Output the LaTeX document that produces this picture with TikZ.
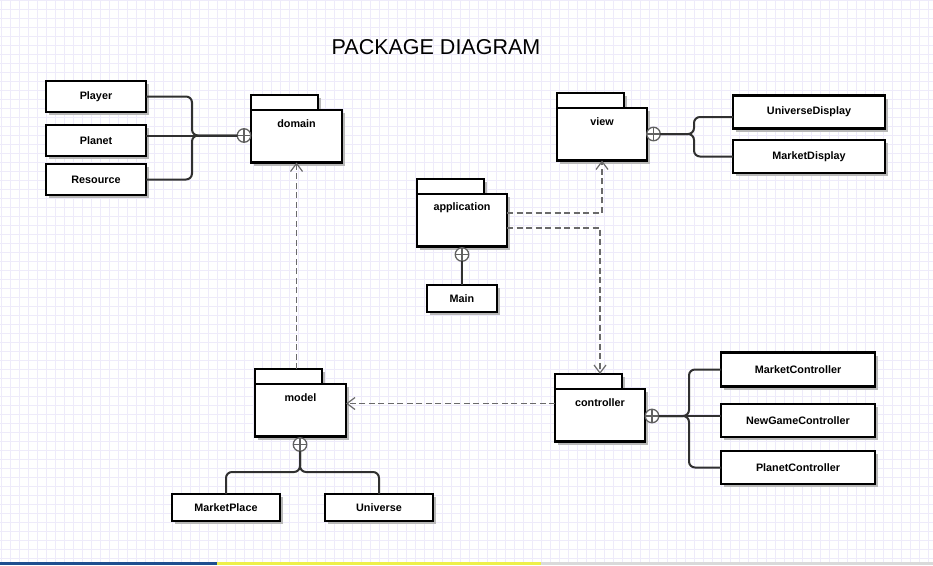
\documentclass[tikz,border=0pt]{standalone}
\usepackage{fontspec}
\setmainfont{Liberation Sans}
\usetikzlibrary{arrows.meta,shadows,calc}
\definecolor{gridc}{HTML}{EEEBFA}
\definecolor{linkc}{HTML}{303030}
\definecolor{depc}{HTML}{6A6A6A}
\definecolor{barblue}{HTML}{1F4F8F}
\definecolor{baryellow}{HTML}{EEF04A}
\definecolor{bargray}{HTML}{DADADA}
\begin{document}
\begin{tikzpicture}[x=1pt,y=-1pt,
 lbl/.style={font=\bfseries\fontsize{10.8}{12}\selectfont},
 shade box/.style={general shadow={fill=black!28, shadow xshift=3pt, shadow yshift=-3pt}},
 cls/.style={draw=black, line width=2.2pt, fill=white, lbl, minimum height=31pt, inner sep=0pt, outer sep=0pt, shade box},
 pkg/.style={draw=black, line width=2.2pt, fill=white, minimum width=90pt, minimum height=52.5pt, inner sep=0pt, outer sep=0pt, anchor=north west, shade box},
 tab/.style={draw=black, line width=2.2pt, fill=white, minimum width=67pt, minimum height=15pt, inner sep=0pt, outer sep=0pt, anchor=south west, shade box},
 nest/.style={circle, draw=black!62, line width=1.3pt, fill=white, minimum size=13.5pt, inner sep=0pt, outer sep=0pt,
   path picture={\draw[black!62, line width=1.3pt] (path picture bounding box.north) -- (path picture bounding box.south) (path picture bounding box.west) -- (path picture bounding box.east);}},
 link/.style={draw=linkc, line width=2pt, rounded corners=6pt},
 dep/.style={draw=depc, line width=1.6pt, dash pattern=on 6pt off 3.5pt, -{Straight Barb[length=8pt,width=12pt,line width=1.2pt]}}
]
\useasboundingbox (0,0) rectangle (933,565);
\fill[white] (0,0) rectangle (933,565);
\foreach \i in {0,...,103} {\draw[gridc, line width=0.8pt] ({1+9*\i},0) -- ({1+9*\i},562);}
\foreach \i in {0,...,62} {\draw[gridc, line width=0.8pt] (0,{0.5+9*\i}) -- (933,{0.5+9*\i});}
\fill[barblue] (0,562) rectangle (217,565);
\fill[baryellow] (217,562) rectangle (541,565);
\fill[bargray] (541,562) rectangle (933,565);

\node[font=\fontsize{21.5}{24}\selectfont] (title) at (436,47) {PACKAGE DIAGRAM};

% packages
\node[tab] (domaintab) at (251,110) {};
\node[pkg, minimum width=91pt] (domain) at (domaintab.south west) {};
\node[lbl] (domainlbl) at ($(domain.north)+(0,14)$) {domain};

\node[tab] (viewtab) at (557,108) {};
\node[pkg] (view) at (viewtab.south west) {};
\node[lbl] (viewlbl) at ($(view.north)+(0,14)$) {view};

\node[tab] (applicationtab) at (417,194) {};
\node[pkg] (application) at (applicationtab.south west) {};
\node[lbl] (applicationlbl) at ($(application.north)+(0,14)$) {application};

\node[tab] (controllertab) at (555,389) {};
\node[pkg] (controller) at (controllertab.south west) {};
\node[lbl] (controllerlbl) at ($(controller.north)+(0,14)$) {controller};

\node[tab] (modeltab) at (255,384) {};
\node[pkg, minimum width=91pt] (model) at (modeltab.south west) {};
\node[lbl] (modellbl) at ($(model.north)+(0,14)$) {model};

% classes
\node[cls, minimum width=100pt] (player) at (96,96.5) {Player};
\node[cls, minimum width=100pt] (planet) at (96,140.5) {Planet};
\node[cls, minimum width=100pt] (resource) at (96,179.5) {Resource};
\node[cls, minimum width=152pt, minimum height=33pt] (universedisplay) at (809,112) {UniverseDisplay};
\node[cls, minimum width=152pt, minimum height=33pt] (marketdisplay) at (809,156.5) {MarketDisplay};
\node[cls, minimum width=70pt, minimum height=27pt] (main) at (462,298.5) {Main};
\node[cls, minimum width=154pt, minimum height=34pt] (marketcontroller) at (798,369.5) {MarketController};
\node[cls, minimum width=154pt, minimum height=33pt] (newgamecontroller) at (798,420.5) {NewGameController};
\node[cls, minimum width=154pt, minimum height=33pt] (planetcontroller) at (798,467.5) {PlanetController};
\node[cls, minimum width=108pt, minimum height=27pt] (marketplace) at (226,507.5) {MarketPlace};
\node[cls, minimum width=108pt, minimum height=27pt] (universe) at (379,507.5) {Universe};

% nesting circles
\node[nest] (dplus) at (244,135.5) {};
\node[nest] (vplus) at (653.5,134) {};
\node[nest] (aplus) at (462,254.5) {};
\node[nest] (cplus) at (652,416) {};
\node[nest] (mplus) at (300,444.5) {};

% nesting links
\coordinate (dj) at (192,135.5);
\draw[link] (player.east) -| (dj) -- (dplus.west);
\draw[link] (planet.east |- dj) -- (dplus.west);
\draw[link] (resource.east) -| (dj) -- (dplus.west);

\coordinate (vj) at (694,134);
\draw[link] (vplus.east) -- (vj) |- ($(universedisplay.west)+(0,5)$);
\draw[link] (vplus.east) -- (vj) |- (marketdisplay.west);

\draw[link] (aplus.south) -- (main.north);

\coordinate (cj) at (689,416);
\draw[link] (cplus.east) -- (cj) |- (marketcontroller.west);
\draw[link] (cplus.east) -- (newgamecontroller.west |- cj);
\draw[link] (cplus.east) -- (cj) |- (planetcontroller.west);

\coordinate (mj) at (300,472);
\draw[link] (mplus.south) -- (mj) -| (marketplace.north);
\draw[link] (mplus.south) -- (mj) -| (universe.north);

% dependencies
\draw[dep] (modeltab.north -| domain.south) -- (domain.south);
\draw[dep] ($(application.east)+(0,-7.5)$) -| (view.south);
\draw[dep] ($(application.east)+(0,7.5)$) -| (controllertab.north -| controller.north);
\coordinate (dy) at (450,403.5);
\draw[dep] (controller.west |- dy) -- (model.east |- dy);
\end{tikzpicture}
\end{document}
